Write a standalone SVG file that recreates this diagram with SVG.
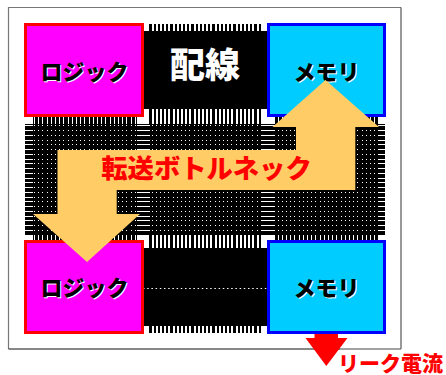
<svg xmlns="http://www.w3.org/2000/svg" width="446" height="375" viewBox="0 0 446 375">
<style>
.jp{font-family:"Noto Sans CJK JP","Noto Sans",sans-serif;font-weight:900}
.lab{font-size:22px;text-anchor:middle}
.k{fill:#000}
.w{fill:#fff}
.logic{fill:#f0f;stroke:#f00;stroke-width:3}
.mem{fill:#0cf;stroke:#00f;stroke-width:3}
.flow{fill:#fc6}
</style>
<defs>
<pattern id="v" patternUnits="userSpaceOnUse" x="227" y="0" width="21" height="10"><path d="M0 0h1v10h-1zM4 0h1v10h-1zM9 0h1v10h-1zM13 0h1v10h-1zM17 0h1v10h-1z" fill="#fff" shape-rendering="crispEdges"/></pattern>
<pattern id="v2" patternUnits="userSpaceOnUse" x="227" y="0" width="21" height="10"><path d="M0 0h2v10h-2zM4 0h2v10h-2zM9 0h2v10h-2zM13 0h2v10h-2zM17 0h2v10h-2z" fill="#fff" shape-rendering="crispEdges"/></pattern>
<pattern id="h" patternUnits="userSpaceOnUse" x="0" y="125" width="10" height="19"><path d="M0 0h10v1h-10zM0 5h10v1h-10zM0 10h10v1h-10zM0 15h10v1h-10z" fill="#fff" shape-rendering="crispEdges"/></pattern>
<pattern id="d" patternUnits="userSpaceOnUse" x="227" y="125" width="21" height="19"><path d="M0 0h1v1h-1zM4 0h1v1h-1zM9 0h1v1h-1zM13 0h1v1h-1zM17 0h1v1h-1zM0 5h1v1h-1zM4 5h1v1h-1zM9 5h1v1h-1zM13 5h1v1h-1zM17 5h1v1h-1zM0 10h1v1h-1zM4 10h1v1h-1zM9 10h1v1h-1zM13 10h1v1h-1zM17 10h1v1h-1zM0 15h1v1h-1zM4 15h1v1h-1zM9 15h1v1h-1zM13 15h1v1h-1zM17 15h1v1h-1z" fill="#fff" shape-rendering="crispEdges"/></pattern>
</defs>
<rect width="446" height="375" fill="#fff"/>
<path d="M8.500 349V7.500H401" fill="none" stroke="#777" stroke-width="1.200"/>
<path d="M401 7.500V349H338" fill="none" stroke="#333" stroke-width="1"/>
<path d="M8.500 349H340" fill="none" stroke="#111" stroke-width="1"/>
<path d="M338 349H401" fill="none" stroke="#aaa" stroke-width="1"/>

<g id="wiring">
<rect x="25" y="124" width="360" height="111" class="k"/>
<rect x="25" y="124" width="8" height="111" fill="url(#h)"/>
<rect x="378" y="124" width="7" height="111" fill="url(#h)"/>
<rect x="137" y="124" width="13" height="111" fill="url(#h)"/>
<rect x="261" y="124" width="14" height="111" fill="url(#h)"/>
<rect x="33" y="124" width="104" height="111" fill="url(#d)"/>
<rect x="150" y="124" width="111" height="111" fill="url(#d)"/>
<rect x="275" y="124" width="103" height="111" fill="url(#d)"/>
<rect x="33" y="115" width="104" height="9" class="k"/>
<rect x="33" y="115" width="104" height="9" fill="url(#v)"/>
<rect x="275" y="115" width="103" height="9" class="k"/>
<rect x="275" y="115" width="103" height="9" fill="url(#v)"/>
<rect x="33" y="235" width="104" height="6" class="k"/>
<rect x="33" y="235" width="104" height="6" fill="url(#v)"/>
<rect x="275" y="235" width="103" height="6" class="k"/>
<rect x="275" y="235" width="103" height="6" fill="url(#v)"/>
<rect x="149" y="24" width="112" height="7" class="k"/>
<rect x="149" y="24" width="112" height="7" fill="url(#v2)"/>
<rect x="149" y="109" width="112" height="15" class="k"/>
<rect x="149" y="109" width="112" height="15" fill="url(#v2)"/>
<rect x="149" y="235" width="112" height="13" class="k"/>
<rect x="149" y="235" width="112" height="13" fill="url(#v2)"/>
<rect x="149" y="326" width="112" height="7" class="k"/>
<rect x="149" y="326" width="112" height="7" fill="url(#v2)"/>
<rect x="142" y="31" width="126" height="78" class="k"/>
<rect x="142" y="248" width="126" height="78" class="k"/>
<path d="M143 288.500H268" stroke="#fff" stroke-width="1" stroke-dasharray="1.500 2.700"/>
<text x="205" y="78" class="jp" font-size="35" text-anchor="middle" fill="#fff">配線</text>
</g>

<g id="logic-top">
<rect x="25.500" y="24.500" width="117" height="91" class="logic"/>
<text x="85.500" y="81" class="jp lab w">ロジック</text>
<text x="84.500" y="80" class="jp lab k">ロジック</text>
</g>
<g id="memory-top">
<rect x="268.500" y="24.500" width="116" height="91" class="mem"/>
<text x="327.500" y="81" class="jp lab w">メモリ</text>
<text x="326.500" y="80" class="jp lab k">メモリ</text>
</g>
<g id="logic-bottom">
<rect x="25.500" y="241.500" width="117" height="91" class="logic"/>
<text x="85.500" y="297" class="jp lab w">ロジック</text>
<text x="84.500" y="296" class="jp lab k">ロジック</text>
</g>
<g id="memory-bottom">
<rect x="268.500" y="241.500" width="116" height="91" class="mem"/>
<text x="327.500" y="297" class="jp lab w">メモリ</text>
<text x="326.500" y="296" class="jp lab k">メモリ</text>
</g>

<g id="connectors">
<path class="flow" d="M57.500 150H296V127H272.500L325.500 80L379 127H355.300V190H116.700V214H140L87 262L33 214H57.500Z"/>
<path d="M314.500 334H338V338H347.500L326.300 366L305.500 338H314.500Z" fill="#f00"/>
</g>
<text x="206.500" y="178" class="jp" font-size="26.300" text-anchor="middle" fill="#f00">転送ボトルネック</text>
<text x="338" y="371" class="jp" font-size="21" fill="#f00">リーク電流</text>
</svg>
